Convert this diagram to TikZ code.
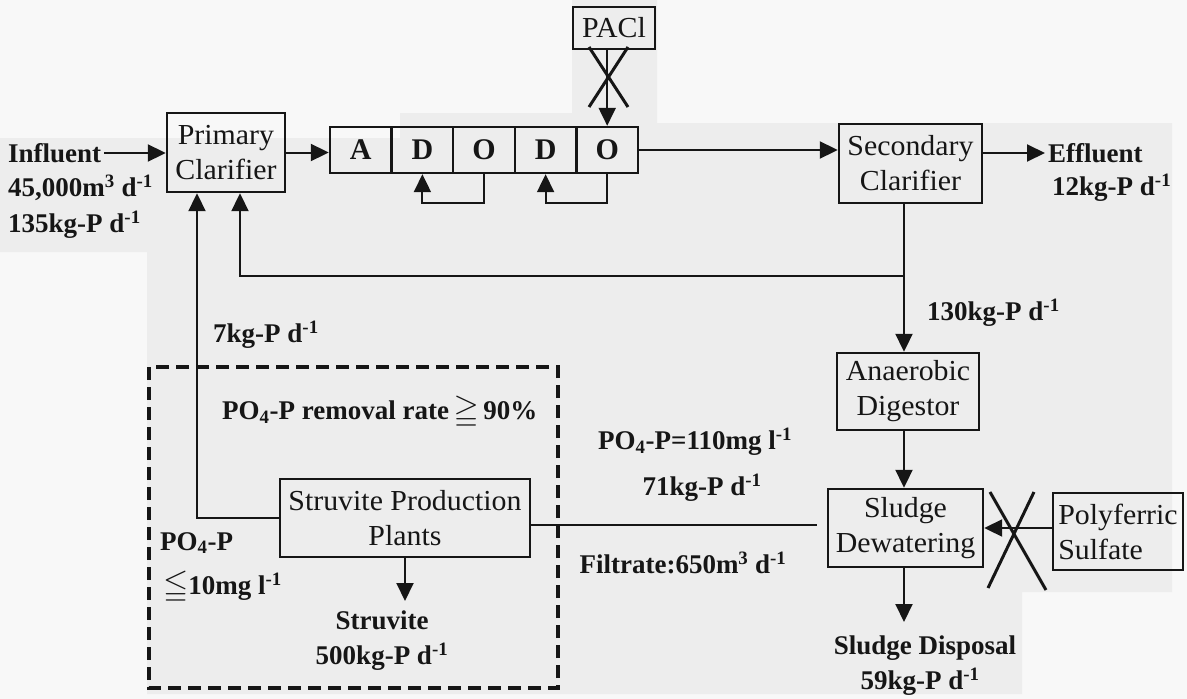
\documentclass[tikz,border=0pt]{standalone}
\usepackage{fontspec}
\usepackage{amssymb}
\usepackage{graphicx}
\setmainfont{Liberation Serif}
\newfontfamily\boxfont{Liberation Serif}[FakeStretch=1.03]
\newcommand{\bigrel}[1]{\raisebox{-0.5pt}{\scalebox{1.2}{$#1$}}}
\usetikzlibrary{arrows.meta}
\definecolor{bgc}{RGB}{248,248,248}
\definecolor{scan}{RGB}{237,237,237}
\definecolor{ink}{RGB}{22,22,22}
\begin{document}
\begin{tikzpicture}[x=1pt,y=-1pt,
  lab/.style={font=\fontsize{27}{33}\selectfont\bfseries, inner sep=0pt, text=ink},
  box/.style={draw=ink, line width=2.4pt, font=\boxfont\fontsize{29}{35}\selectfont, align=center, inner sep=0pt, text=ink},
  cell/.style={draw=ink, line width=2.4pt, minimum width=61.6pt, minimum height=46pt, inner sep=0pt, font=\fontsize{30}{30}\selectfont\bfseries, text=ink},
  ln/.style={draw=ink, line width=2pt},
  arr/.style={ln, -{Triangle[length=18pt,width=17pt]}},
  cross/.style={draw=ink, line width=3pt},
  dashbox/.style={draw=ink, line width=4pt, dash pattern=on 13pt off 7pt}
]
\useasboundingbox (0,0) rectangle (1187,699);
\fill[bgc] (0,0) rectangle (1187,699);
\fill[scan] (0,138) -- (400,138) -- (400,113) -- (572,113) -- (572,0) -- (657,0) -- (657,123) -- (1172,123) -- (1172,592) -- (1050,592) -- (1022,592) -- (1022,694) -- (147,694) -- (147,252) -- (0,252) -- cycle;

% boxes
\node[box, minimum width=118pt, minimum height=79pt] (prim) at (226,152.5) {Primary\\Clarifier};
\node[cell] (A) at (360.8,150) {A};
\node[cell] (D1) at (422.4,150) {D};
\node[cell] (O1) at (484,150) {O};
\node[cell] (D2) at (545.6,150) {D};
\node[cell] (O2) at (607.2,150) {O};
\node[box, minimum width=82pt, minimum height=42pt] (pacl) at (614,28) {PACl};
\node[box, minimum width=143pt, minimum height=79pt] (sec) at (910.5,163.5) {Secondary\\Clarifier};
\node[box, minimum width=142pt, minimum height=77pt] (ana) at (908,391.5) {Anaerobic\\Digestor};
\node[box, minimum width=155pt, minimum height=78pt] (sd) at (905.5,528) {Sludge\\Dewatering};
\node[box, minimum width=130pt, minimum height=77pt, align=left] (pf) at (1118,531.5) {Polyferric\\Sulfate};
\node[box, minimum width=250pt, minimum height=78pt] (spp) at (405,518) {Struvite Production\\Plants};

% labels
\node[lab, anchor=west] (inf) at (8,153) {Influent};
\node[lab, anchor=west] (q) at (8,188) {45,000m\textsuperscript{3} d\textsuperscript{-1}};
\node[lab, anchor=west] (qp) at (8,225) {135kg-P d\textsuperscript{-1}};
\node[lab, anchor=west] (eff) at (1048,153) {Effluent};
\node[lab, anchor=west] (effp) at (1052,188) {12kg-P d\textsuperscript{-1}};
\node[lab, anchor=west] (l130) at (927,313) {130kg-P d\textsuperscript{-1}};
\node[lab, anchor=west] (l7) at (213,335) {7kg-P d\textsuperscript{-1}};
\node[lab, anchor=west] (rr) at (222,412) {PO\textsubscript{4}-P removal rate\,\bigrel{\geqq}\,90\%};
\node[lab, anchor=west] (po) at (160,543) {PO\textsubscript{4}-P};
\node[lab, anchor=west] (le) at (163,587) {\bigrel{\leqq}10mg l\textsuperscript{-1}};
\node[lab] (stv) at (382,620) {Struvite};
\node[lab] (stvp) at (382,657) {500kg-P d\textsuperscript{-1}};
\node[lab, anchor=west] (po110) at (598,442) {PO\textsubscript{4}-P=110mg l\textsuperscript{-1}};
\node[lab] (l71) at (702,488) {71kg-P d\textsuperscript{-1}};
\node[lab] (filt) at (683,563) {Filtrate:650m\textsuperscript{3} d\textsuperscript{-1}};
\node[lab] (disp) at (925,648) {Sludge Disposal};
\node[lab] (dispp) at (920,682) {59kg-P d\textsuperscript{-1}};

% helper coordinates
\coordinate (v) at (904,0);
\coordinate (j) at (904,276);
\coordinate (dispin) at (904,622);
\coordinate (stin) at (0,601);
\coordinate (fl) at (0,525);

% connectors
\draw[arr] ([xshift=3pt]inf.east) -- (inf.east -| prim.west);
\draw[arr] (prim.east) -- (prim.east -| A.west);
\draw[arr] (O2.east) -- (O2.east -| sec.west);
\draw[arr] (sec.east |- eff.west) -- ([xshift=-3pt]eff.west);
\draw[arr] (pacl.south -| O2.north) -- (O2.north);
\draw[cross] (589,47) -- (628,107) (628,47) -- (589,107);
\draw[arr] (O1.south) -- ++(0,29) -| (D1.south);
\draw[arr] (O2.south) -- ++(0,29) -| (D2.south);
\draw[arr] (v |- sec.south) -- (v |- ana.north);
\draw[arr] (j) -| ([xshift=14pt]prim.south);
\draw[arr] (spp.west) -| ([xshift=-29pt]prim.south);
\draw[arr] (v |- ana.south) -- (v |- sd.north);
\draw[arr] (v |- sd.south) -- (dispin);
\draw[arr] (spp.south) -- (spp.south |- stin);
\draw[ln] (spp.east |- fl) -- ([xshift=-10pt]sd.west |- fl);
\draw[arr] (pf.west |- sd.east) -- (sd.east);
\draw[cross] (990,492) -- (1046,590) (1034,492) -- (988,588);

% dashed region
\draw[dashbox] (149,367) rectangle (558,688);
\end{tikzpicture}
\end{document}
